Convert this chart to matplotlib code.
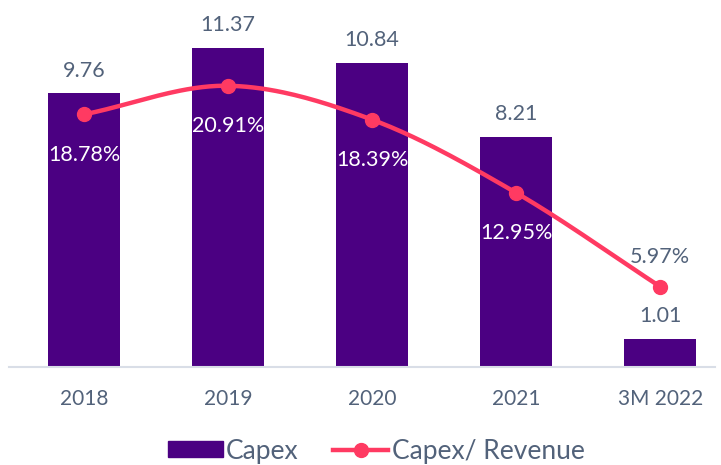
import numpy as np
import matplotlib
matplotlib.use("Agg")
import matplotlib.pyplot as plt
from matplotlib.lines import Line2D
from matplotlib.patches import Patch

plt.rcParams['font.family'] = ['Lato', 'DejaVu Sans']

categories = ["2018", "2019", "2020", "2021", "3M 2022"]
capex = [9.76, 11.37, 10.84, 8.21, 1.01]
capex_ratio = [18.78, 20.91, 18.39, 12.95, 5.97]

BAR = "#4B0082"
LINE = "#FF3A62"
TEXT = "#52627A"

W, H = 721, 465
fig = plt.figure(figsize=(W / 100, H / 100), dpi=100)
ax = fig.add_axes([9 / W, (H - 367) / H, 706 / W, 347 / H])
ax2 = ax.twinx()

x = np.arange(len(categories))
ax.bar(x, capex, width=0.5, color=BAR, zorder=2)

ax.set_xlim(-0.52, 4.38)
ax.set_ylim(0, 347 / 28.07)
ax2.set_ylim(0, 347 / 13.45)


def smooth_curve(xs, ys, n=40):
    # Catmull-Rom spline through the data points
    xs = np.asarray(xs, float)
    ys = np.asarray(ys, float)
    px = np.concatenate([[2 * xs[0] - xs[1]], xs, [2 * xs[-1] - xs[-2]]])
    py = np.concatenate([[2 * ys[0] - ys[1]], ys, [2 * ys[-1] - ys[-2]]])
    out_x, out_y = [], []
    for i in range(1, len(px) - 2):
        t = np.linspace(0, 1, n)
        for arr, out in ((px, out_x), (py, out_y)):
            p0, p1, p2, p3 = arr[i - 1], arr[i], arr[i + 1], arr[i + 2]
            out.extend(0.5 * ((2 * p1) + (-p0 + p2) * t
                              + (2 * p0 - 5 * p1 + 4 * p2 - p3) * t ** 2
                              + (-p0 + 3 * p1 - 3 * p2 + p3) * t ** 3))
    return np.array(out_x), np.array(out_y)


sx, sy = smooth_curve(x, capex_ratio)
ax2.plot(sx, sy, color=LINE, lw=3.2, solid_capstyle="round", zorder=3)
ax2.plot(x, capex_ratio, "o", color=LINE, ms=10, zorder=4)

for xi, v in zip(x, capex):
    ax.annotate(f"{v:.2f}", (xi, v), xytext=(0, 9), textcoords="offset points",
                ha="center", va="bottom", color=TEXT, fontsize=15.5)

for i, (xi, v) in enumerate(zip(x, capex_ratio)):
    if i == len(x) - 1:
        ax2.annotate(f"{v:.2f}%", (xi, v), xytext=(0, 14), textcoords="offset points",
                     ha="center", va="bottom", color=TEXT, fontsize=15.5)
    else:
        ax2.annotate(f"{v:.2f}%", (xi, v), xytext=(0, -29), textcoords="offset points",
                     ha="center", va="center", color="white", fontsize=15.5)

for a in (ax, ax2):
    for s in a.spines.values():
        s.set_visible(False)
    a.set_yticks([])
ax.spines["bottom"].set_visible(True)
ax.spines["bottom"].set_color("#D9DEE7")
ax.spines["bottom"].set_linewidth(1.5)
ax.set_xticks(x)
ax.set_xticklabels(categories, color=TEXT, fontsize=15)
ax.tick_params(axis="x", length=0, pad=16)

handles = [Patch(color=BAR, label="Capex"),
           Line2D([0], [0], color=LINE, lw=3.2, marker="o", ms=10, label="Capex/ Revenue")]
fig.legend(handles=handles, loc="center", bbox_to_anchor=(376 / W, (H - 451) / H), ncol=2,
           frameon=False, fontsize=19, labelcolor=TEXT, handlelength=2.1,
           handletextpad=0.12, columnspacing=1.3, handleheight=0.52,
           borderpad=0, borderaxespad=0)

fig.savefig("out.png", dpi=100)
